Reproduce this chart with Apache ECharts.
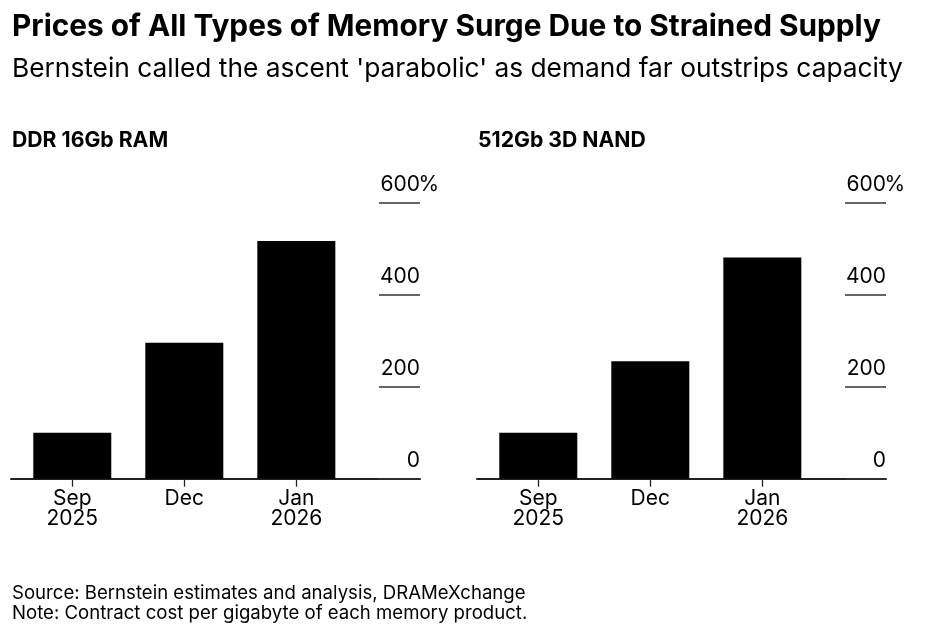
<!DOCTYPE html>
<html>
<head>
<meta charset="utf-8">
<script src="https://cdn.jsdelivr.net/npm/echarts@6/dist/echarts.min.js"></script>
<style>
  html, body { margin: 0; padding: 0; background: #fff; }
  #chart { width: 932px; height: 633px; }
</style>
</head>
<body>
<div id="chart"></div>
<script>
// ---- Data ----
const categories = ['Sep\n2025', 'Dec', 'Jan\n2026'];
const ddrValues = [100, 295, 516];   // DDR 16Gb RAM, %
const nandValues = [100, 255, 480];  // 512Gb 3D NAND, %
const yTickValues = [0, 200, 400, 600];
const panelTitles = ['DDR 16Gb RAM', '512Gb 3D NAND'];

const FONT = 'Inter, "Liberation Sans", Arial, sans-serif';
const chart = echarts.init(document.getElementById('chart'), null, { renderer: 'canvas' });

const gridTop = 202.3, gridHeight = 276.4, gridWidth = 409;
const gridLefts = [11, 477];

function makeXAxis(idx) {
  return {
    type: 'value',
    gridIndex: idx,
    min: -0.547,
    max: 3.104,
    splitLine: { show: false },
    axisLine: { show: true, onZero: true, lineStyle: { color: '#222', width: 2 } },
    axisTick: { show: true, length: 8, customValues: [0, 1, 2], lineStyle: { color: '#222', width: 1.3 } },
    axisLabel: {
      show: true,
      customValues: [0, 1, 2],
      formatter: v => categories[Math.round(v)],
      color: '#000',
      fontFamily: FONT,
      fontSize: 21,
      lineHeight: 20,
      margin: 10
    }
  };
}
function makeYAxis(idx) {
  return {
    type: 'value',
    gridIndex: idx,
    position: 'right',
    min: yTickValues[0],
    max: yTickValues[yTickValues.length - 1],
    interval: 200,
    splitLine: { show: false },
    axisLine: { show: false, onZero: false },
    axisTick: { show: true, inside: true, length: 41, lineStyle: { color: '#333', width: 1.5 } },
    axisLabel: {
      show: true,
      margin: 19,
      align: 'right',
      verticalAlign: 'bottom',
      padding: [0, 0, 8, 0],
      formatter: v => v === 600 ? '{n|' + v + '}{p|%}' : '{n|' + v + '}{p|}',
      rich: {
        n: { fontFamily: FONT, fontSize: 21, color: '#000', lineHeight: 20 },
        p: { fontFamily: FONT, fontSize: 21, color: '#000', width: 19, lineHeight: 20 }
      }
    }
  };
}
function makeSeries(idx, vals) {
  return {
    type: 'bar',
    xAxisIndex: idx,
    yAxisIndex: idx,
    barWidth: 78,
    data: vals.map((v, i) => [i, v]),
    itemStyle: { color: '#000' },
    silent: true
  };
}

const option = {
  backgroundColor: '#fff',
  animation: false,
  title: [
    { text: 'Prices of All Types of Memory Surge Due to Strained Supply', left: 12, top: 12, padding: 0,
      textStyle: { fontFamily: FONT, fontSize: 29.8, fontWeight: 'bold', color: '#000', lineHeight: 30 } },
    { text: "Bernstein called the ascent 'parabolic' as demand far outstrips capacity", left: 12, top: 56, padding: 0,
      textStyle: { fontFamily: FONT, fontSize: 26.3, fontWeight: 'normal', color: '#000', lineHeight: 26 } },
    { text: panelTitles[0], left: 12, top: 130, padding: 0,
      textStyle: { fontFamily: FONT, fontSize: 21.2, fontWeight: 'bold', color: '#000', lineHeight: 21 } },
    { text: panelTitles[1], left: 478, top: 130, padding: 0,
      textStyle: { fontFamily: FONT, fontSize: 21.2, fontWeight: 'bold', color: '#000', lineHeight: 21 } },
    { text: 'Source: Bernstein estimates and analysis, DRAMeXchange\nNote: Contract cost per gigabyte of each memory product.',
      left: 12, top: 583, padding: 0,
      textStyle: { fontFamily: FONT, fontSize: 18.6, fontWeight: 'normal', color: '#000', lineHeight: 20 } }
  ],
  grid: gridLefts.map(l => ({ left: l, top: gridTop, width: gridWidth, height: gridHeight, containLabel: false })),
  xAxis: [makeXAxis(0), makeXAxis(1)],
  yAxis: [makeYAxis(0), makeYAxis(1)],
  series: [makeSeries(0, ddrValues), makeSeries(1, nandValues)]
};
chart.setOption(option);
</script>
</body>
</html>
